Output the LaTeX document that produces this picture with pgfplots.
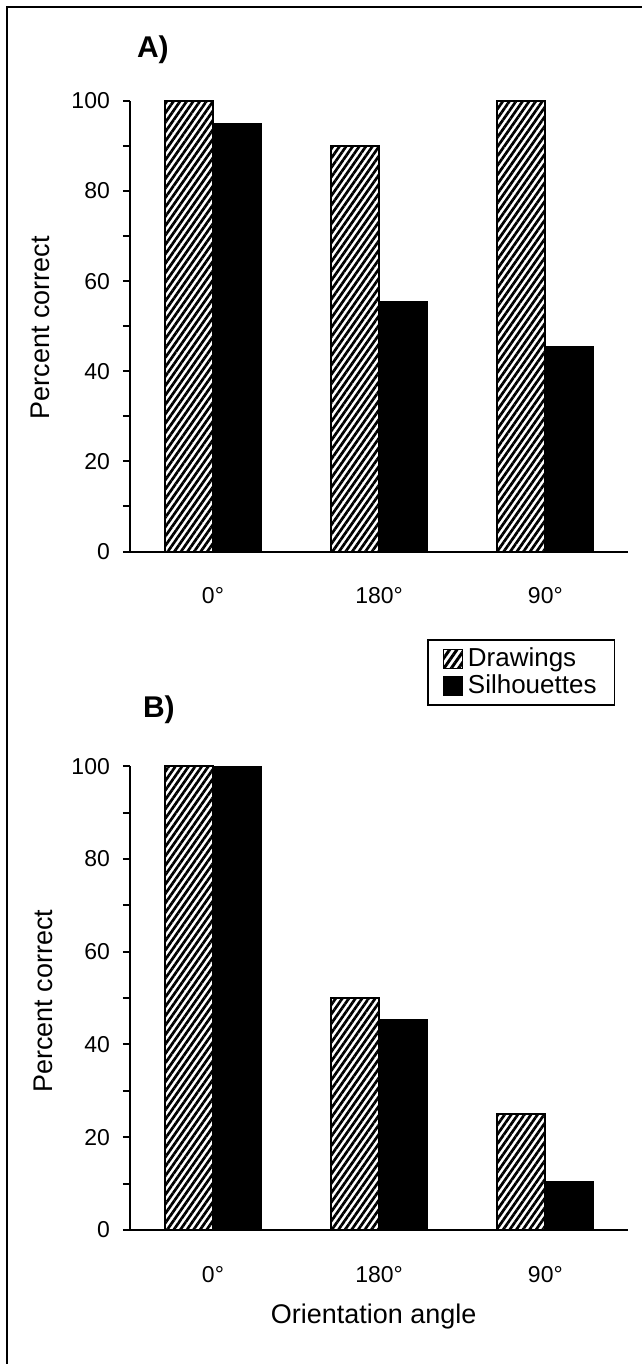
\documentclass[border=0pt]{standalone}
\usepackage{pgfplots}
\pgfplotsset{compat=1.18}
\usepackage{fontspec}
\setmainfont{Liberation Sans}
\usetikzlibrary{patterns.meta}

\pgfplotsset{
  panel/.style={
    scale only axis,
    width=249.5pt,
    xmin=-0.5, xmax=2.5,
    ymin=0, ymax=100,
    axis x line=bottom, axis y line=left,
    axis line style={-, line width=1pt, black},
    xtick={0,1,2},
    xticklabels={0°,180°,90°},
    ytick={0,20,...,100},
    minor ytick={10,30,50,70,90},
    tick align=outside,
    major tick length=3.5pt, minor tick length=3.5pt,
    tick style={black, line width=1pt},
    xtick style={draw=none},
    /pgf/number format/assume math mode=true,
    ticklabel style={font=\fontsize{11.5}{13}\selectfont},
    xticklabel style={yshift=-11pt},
    yticklabel style={xshift=-3pt},
    bar width=0.29,
    clip=false,
  },
  hatchbar/.style={ybar, bar shift=-0.145, draw=black, line width=1pt,
    pattern={Lines[angle=55,distance=2.7pt,line width=1.35pt]}, pattern color=black,
    legend image code/.code={\draw[draw=black, line width=0.8pt, pattern={Lines[angle=55,distance=3pt,line width=1.5pt]}] (0pt,-4.75pt) rectangle (9.5pt,4.75pt);}},
  solidbar/.style={ybar, bar shift=0.145, draw=black, fill=black, line width=0.5pt,
    legend image code/.code={\fill[black] (0pt,-4.75pt) rectangle (9.5pt,4.75pt);}},
}

\begin{document}
\begin{tikzpicture}
\path (0pt,0pt) rectangle (321.5pt,-682.5pt);
\draw[line width=1.2pt] (3.5pt,-682.5pt) -- (3.5pt,-3.5pt) -- (321.5pt,-3.5pt);

\begin{axis}[panel, height=225.5pt, at={(65pt,-276pt)}, anchor=south west,
  legend style={at={(axis description cs:0.785,-0.268)}, anchor=center,
    draw=black, line width=1pt, font=\fontsize{13}{14}\selectfont,
    inner xsep=7pt, inner ysep=2pt, row sep=-1.5pt,
    cells={anchor=west}, /tikz/every even column/.append style={column sep=2pt}},
  legend entries={Drawings, Silhouettes}]
\addplot[hatchbar] coordinates {(0,100) (1,90) (2,100)};
\addplot[solidbar] coordinates {(0,95) (1,55.5) (2,45.5)};
\end{axis}

\begin{axis}[panel, height=232pt, at={(65pt,-615.5pt)}, anchor=south west]
\addplot[hatchbar] coordinates {(0,100) (1,50) (2,25)};
\addplot[solidbar] coordinates {(0,100) (1,45.5) (2,10.5)};
\end{axis}

\node[font=\fontsize{15}{17}\selectfont\bfseries] at (76.5pt,-25pt) {A)};
\node[font=\fontsize{15}{17}\selectfont\bfseries] at (79.5pt,-355pt) {B)};
\node[rotate=90, font=\fontsize{13.5}{15}\selectfont] at (20pt,-164pt) {Percent correct};
\node[rotate=90, font=\fontsize{13.5}{15}\selectfont] at (21.5pt,-501pt) {Percent correct};
\node[font=\fontsize{13.5}{15}\selectfont] at (187pt,-659pt) {Orientation angle};
\end{tikzpicture}
\end{document}
